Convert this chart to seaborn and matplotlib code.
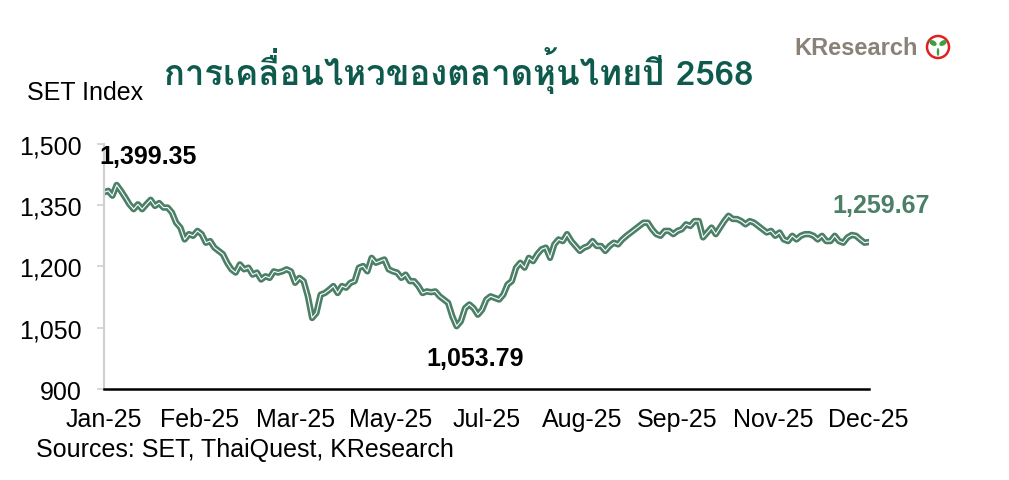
import matplotlib
matplotlib.use("Agg")
import matplotlib.pyplot as plt
from matplotlib import font_manager
from matplotlib.ft2font import FT2Font
from matplotlib.patches import Circle, Ellipse
import numpy as np
import pandas as pd
import seaborn as sns

# SET index (Jan-25 .. Dec-25), roughly every 1.3 trading days
set_jan_apr = [1381, 1385, 1373, 1399.35, 1385, 1369, 1352, 1340, 1352, 1340,
               1352, 1363, 1348, 1355, 1344, 1344, 1332, 1307, 1295, 1266,
               1279, 1275, 1287, 1279, 1258, 1262, 1246, 1238, 1230, 1209,
               1193, 1185, 1205, 1193, 1197, 1180, 1185, 1168, 1176, 1172,
               1188, 1185, 1188]
set_apr_jul = [1193, 1188, 1160, 1172, 1164, 1127, 1074, 1086, 1131, 1135,
               1143, 1152, 1135, 1152, 1148, 1160, 1164, 1197, 1201, 1188,
               1221, 1209, 1213, 1217, 1193, 1188, 1185, 1172, 1180, 1164,
               1164, 1152, 1135, 1139, 1137, 1139, 1127, 1119, 1111, 1078,
               1053.79, 1066, 1098, 1107, 1098, 1082]
set_jul_oct = [1094, 1119, 1127, 1123, 1119, 1131, 1156, 1164, 1197, 1209,
               1197, 1221, 1213, 1230, 1242, 1246, 1221, 1254, 1266, 1262,
               1279, 1262, 1250, 1238, 1246, 1250, 1262, 1250, 1250, 1238,
               1250, 1258, 1254, 1266, 1275, 1283, 1291, 1299, 1307, 1307,
               1291, 1279, 1275, 1287]
set_oct_dec = [1287, 1279, 1287, 1291, 1303, 1299, 1311, 1311, 1271, 1283,
               1295, 1279, 1295, 1311, 1324, 1316, 1316, 1311, 1303, 1311,
               1307, 1299, 1291, 1283, 1287, 1275, 1283, 1266, 1262, 1275,
               1266, 1275, 1279, 1279, 1275, 1266, 1275, 1262, 1262, 1275,
               1262, 1258, 1271, 1277, 1275, 1266, 1258, 1259.67]
month_labels = ["Jan-25", "Feb-25", "Mar-25", "May-25", "Jul-25",
                "Aug-25", "Sep-25", "Nov-25", "Dec-25"]
y_ticks = [900, 1050, 1200, 1350, 1500]

values = set_jan_apr + set_apr_jul + set_jul_oct + set_oct_dec
df = pd.DataFrame({"t": np.arange(len(values)), "set": values})


def thai_font():
    for f in font_manager.fontManager.ttflist:
        try:
            cm = FT2Font(f.fname).get_charmap()
        except Exception:
            continue
        if ord("ก") in cm and ord("ุ") in cm:
            return f.name
    return "DejaVu Sans"


sns.set_style("white")
plt.rcParams["font.family"] = ["Liberation Sans", "DejaVu Sans"]
plt.rcParams["text.color"] = "black"
plt.rcParams["xtick.color"] = "black"
plt.rcParams["ytick.color"] = "black"
thai = thai_font()

green = "#4b7f68"
title_col = "#0e5a4c"
fs = 18

fig = plt.figure(figsize=(10.09, 4.81), dpi=100)
ax = fig.add_axes([0.103, 0.189, 0.758, 0.510])

sns.lineplot(data=df, x="t", y="set", ax=ax, color=green, lw=4.6)
sns.lineplot(data=df, x="t", y="set", ax=ax, color="white", lw=0.8)

n = len(values) - 1
ax.set_xlim(0, n)
ax.set_ylim(900, 1500)
ax.set_yticks(y_ticks)
ax.set_yticklabels([f"{v:,}" for v in y_ticks], fontsize=fs)
lab_pos = np.linspace(0, n, len(month_labels))
ax.xaxis.remove_overlapping_locs = False
ax.set_xticks(lab_pos[::2])
ax.set_xticklabels([])
ax.set_xticks(lab_pos, minor=True)
ax.set_xticklabels(month_labels, minor=True, fontsize=fs)
ax.tick_params(axis="x", which="major", direction="inout", length=8, width=1.2, color="black")
ax.tick_params(axis="x", which="minor", length=0, pad=13)
ax.tick_params(axis="y", left=True, length=5, width=1.2, color="#d0d0d0", pad=11)
ax.set_xlabel("")
ax.set_ylabel("")
for s in ["top", "right"]:
    ax.spines[s].set_visible(False)
ax.spines["left"].set_color("#d0d0d0")
ax.spines["left"].set_linewidth(1.5)
ax.spines["bottom"].set_color("black")
ax.spines["bottom"].set_linewidth(1.8)

# annotations
imax = int(np.argmax(values))
imin = int(np.argmin(values))
ax.annotate(f"{values[imax]:,.2f}", (0, 1500), xytext=(-3, -9), textcoords="offset points",
            fontsize=fs, fontweight="bold", ha="left", va="center")
ax.annotate(f"{values[imin]:,.2f}", (imin, values[imin]), xytext=(13, -23), textcoords="offset points",
            fontsize=fs, fontweight="bold", ha="center", va="center")
ax.annotate(f"{values[-1]:,.2f}", (n, values[-1]), xytext=(9, 27), textcoords="offset points",
            fontsize=fs, fontweight="bold", ha="center", va="center", color=green)

# header / footer
fig.text(0.455, 0.853, "การเคลื่อนไหวของตลาดหุ้นไทยปี 2568", family=[thai, "DejaVu Sans"],
         fontsize=25, fontweight="bold", color=title_col, ha="center", va="center")
fig.text(0.027, 0.806, "SET Index", fontsize=fs, ha="left", va="center")
fig.text(0.036, 0.064, "Sources: SET, ThaiQuest, KResearch", fontsize=fs, ha="left", va="center")

# KResearch logo
fig.text(0.910, 0.899, "KResearch", fontsize=17, fontweight="bold", color="#8a8178",
         ha="right", va="center")
fig.add_artist(Circle((938, 433), 11, transform=None, facecolor="white",
                      edgecolor="#e02020", lw=1.8))
fig.add_artist(Ellipse((933, 437), 8, 5, angle=-30, transform=None, facecolor="#3aa040", lw=0))
fig.add_artist(Ellipse((943, 437), 8, 5, angle=30, transform=None, facecolor="#3aa040", lw=0))
fig.add_artist(Ellipse((938, 428), 2.5, 8, transform=None, facecolor="#3aa040", lw=0))

fig.savefig("out.png", dpi=100)
